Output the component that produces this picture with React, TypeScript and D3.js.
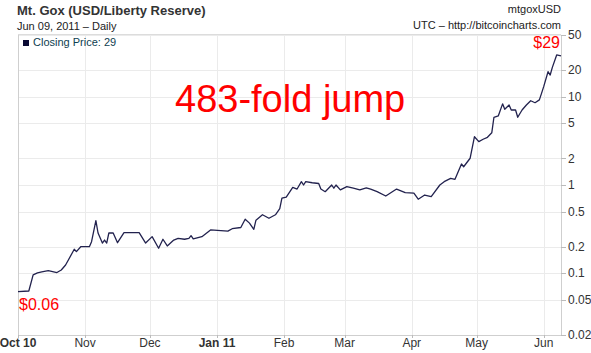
import React from 'react';
import * as d3 from 'd3';

const W = 591;
const H = 353;
const margin = { left: 18, right: 30, top: 35, bottom: 18 };

// daily closing prices (USD)
const dates = [
  '2010-10-01', '2010-10-06', '2010-10-08', '2010-10-10', '2010-10-12', '2010-10-15', '2010-10-19', '2010-10-21',
  '2010-10-23', '2010-10-27', '2010-10-28', '2010-10-30',
  '2010-11-03', '2010-11-04', '2010-11-06', '2010-11-07', '2010-11-09', '2010-11-10', '2010-11-11', '2010-11-12',
  '2010-11-14', '2010-11-16', '2010-11-19', '2010-11-26', '2010-11-29',
  '2010-12-02', '2010-12-05', '2010-12-07', '2010-12-09', '2010-12-12', '2010-12-14', '2010-12-17', '2010-12-19',
  '2010-12-20', '2010-12-21', '2010-12-25', '2010-12-29',
  '2011-01-06', '2011-01-08', '2011-01-12', '2011-01-14', '2011-01-16', '2011-01-18', '2011-01-19', '2011-01-22',
  '2011-01-25', '2011-01-28', '2011-01-30', '2011-01-31',
  '2011-02-02', '2011-02-05', '2011-02-07', '2011-02-09', '2011-02-10', '2011-02-11', '2011-02-14', '2011-02-17',
  '2011-02-18', '2011-02-20', '2011-02-23', '2011-02-24', '2011-02-25', '2011-02-27',
  '2011-03-02', '2011-03-05', '2011-03-08', '2011-03-11', '2011-03-13', '2011-03-16', '2011-03-20', '2011-03-25',
  '2011-03-29',
  '2011-04-02', '2011-04-04', '2011-04-07', '2011-04-10', '2011-04-14', '2011-04-16', '2011-04-19', '2011-04-21',
  '2011-04-24', '2011-04-25', '2011-04-28', '2011-04-30',
  '2011-05-02', '2011-05-04', '2011-05-06', '2011-05-08', '2011-05-09', '2011-05-11', '2011-05-13', '2011-05-14',
  '2011-05-16', '2011-05-17', '2011-05-19', '2011-05-20', '2011-05-22', '2011-05-24', '2011-05-26', '2011-05-28',
  '2011-05-30', '2011-05-31',
  '2011-06-01', '2011-06-03', '2011-06-04', '2011-06-05', '2011-06-07', '2011-06-09',
];

const prices = [
  0.062, 0.063, 0.096, 0.101, 0.104, 0.107, 0.102, 0.109,
  0.124, 0.187, 0.176, 0.2,
  0.2, 0.228, 0.394, 0.286, 0.22, 0.238, 0.22, 0.286,
  0.286, 0.222, 0.289, 0.289, 0.22,
  0.26, 0.192, 0.243, 0.204, 0.238, 0.249, 0.243, 0.249,
  0.267, 0.245, 0.26, 0.31,
  0.3, 0.32, 0.33, 0.41, 0.37, 0.315, 0.4, 0.46,
  0.42, 0.46, 0.54, 0.71,
  0.73, 0.94, 0.9, 1.09, 1.0, 1.09, 1.06, 1.04,
  0.9, 0.84, 1.0, 0.92, 1.0, 0.88,
  0.96, 0.92, 0.88, 0.93, 0.9, 0.84, 0.75, 0.9,
  0.82,
  0.81, 0.69, 0.77, 0.74, 1.0, 1.09, 1.19, 1.16,
  1.73, 1.61, 2.01, 3.52,
  3.1, 3.3, 3.47, 3.9, 5.85, 6.05, 8.3, 7.2,
  8.05, 7.07, 7.07, 5.85, 7.07, 8.05, 9.0, 8.55,
  9.2, 10.9,
  13, 19.2, 17.6, 21.5, 29.7, 29,
];

const yTicks = [0.02, 0.05, 0.1, 0.2, 0.5, 1, 2, 5, 10, 20, 50];
const monthTicks = ['2010-10-01', '2010-11-01', '2010-12-01', '2011-01-01', '2011-02-01', '2011-03-01', '2011-04-01', '2011-05-01', '2011-06-01'];
const monthLabels = ['Oct 10', 'Nov', 'Dec', 'Jan 11', 'Feb', 'Mar', 'Apr', 'May', 'Jun'];
const boldLabels = ['Oct 10', 'Jan 11'];

const parse = d3.utcParse('%Y-%m-%d');
const font = 'Arial, "Liberation Sans", sans-serif';

export default function App() {
  const x = d3.scaleUtc()
    .domain([parse('2010-10-01')!, parse('2011-06-09')!])
    .range([margin.left, W - margin.right]);
  const y = d3.scaleLog().domain([0.02, 50]).range([H - margin.bottom, margin.top]);

  const data = dates.map((d, i) => ({ date: parse(d)!, value: prices[i] }));
  const line = d3.line<{ date: Date; value: number }>()
    .x(d => x(d.date))
    .y(d => y(d.value));

  const x0 = margin.left;
  const x1 = W - margin.right;
  const y0 = H - margin.bottom;
  const y1 = margin.top;

  return (
    <svg width={W} height={H} style={{ position: 'absolute', left: 0, top: 0, background: '#fff' }} fontFamily={font}>
      {/* grid */}
      {yTicks.map(t => (
        <line key={'h' + t} x1={x0} x2={x1} y1={Math.round(y(t)) + 0.5} y2={Math.round(y(t)) + 0.5} stroke="#ebebeb" />
      ))}
      {monthTicks.map(m => {
        const px = Math.round(x(parse(m)!)) + 0.5;
        return <line key={'v' + m} x1={px} x2={px} y1={y1} y2={y0} stroke="#ebebeb" />;
      })}

      {/* frame */}
      <line x1={x0 + 0.5} x2={x0 + 0.5} y1={y1} y2={y0} stroke="#cfcfcf" />
      <line x1={x0} x2={x1} y1={y0 + 0.5} y2={y0 + 0.5} stroke="#cfcfcf" />
      <line x1={x0} x2={x1} y1={y1 - 0.5} y2={y1 - 0.5} stroke="#dcdcdc" />
      <line x1={x1 + 0.5} x2={x1 + 0.5} y1={y1} y2={y0} stroke="#cfcfcf" />

      {/* y axis */}
      {yTicks.map(t => (
        <g key={'yt' + t}>
          <line x1={x1} x2={x1 + 5} y1={Math.round(y(t)) + 0.5} y2={Math.round(y(t)) + 0.5} stroke="#bbb" />
          <text x={x1 + 7} y={y(t)} dy="0.35em" fontSize={12} fill="#333">{t}</text>
        </g>
      ))}

      {/* x axis */}
      {monthTicks.map((m, i) => {
        const px = x(parse(m)!);
        return (
          <g key={'xt' + m}>
            <line x1={Math.round(px) + 0.5} x2={Math.round(px) + 0.5} y1={y0} y2={y0 + 3} stroke="#bbb" />
            <text x={px} y={H - 6} textAnchor="middle" fontSize={12} fill="#333"
              fontWeight={boldLabels.includes(monthLabels[i]) ? 'bold' : 'normal'}>{monthLabels[i]}</text>
          </g>
        );
      })}

      {/* series */}
      <path d={line(data) ?? ''} fill="none" stroke="#22224e" strokeWidth={1.3} strokeLinejoin="round" />

      {/* header */}
      <text x={17} y={15} fontSize={13} fontWeight="bold" fill="#333">Mt. Gox (USD/Liberty Reserve)</text>
      <text x={17} y={30} fontSize={11} fill="#222">Jun 09, 2011 – Daily</text>
      <text x={561} y={13} fontSize={11} fill="#222" textAnchor="end">mtgoxUSD</text>
      <text x={561} y={29} fontSize={11} fill="#222" textAnchor="end">UTC – http://bitcoincharts.com</text>

      {/* legend */}
      <rect x={23} y={40} width={6} height={6} fill="#0a0a33" />
      <text x={33} y={46} fontSize={11} fill="#0e4050">Closing Price: 29</text>

      {/* annotations */}
      <text x={175} y={112} fontSize={38} fill="#ff0000">483-fold jump</text>
      <text x={560} y={48} fontSize={16} fill="#ff0000" textAnchor="end">$29</text>
      <text x={19} y={310} fontSize={16} fill="#ff0000">$0.06</text>
    </svg>
  );
}
